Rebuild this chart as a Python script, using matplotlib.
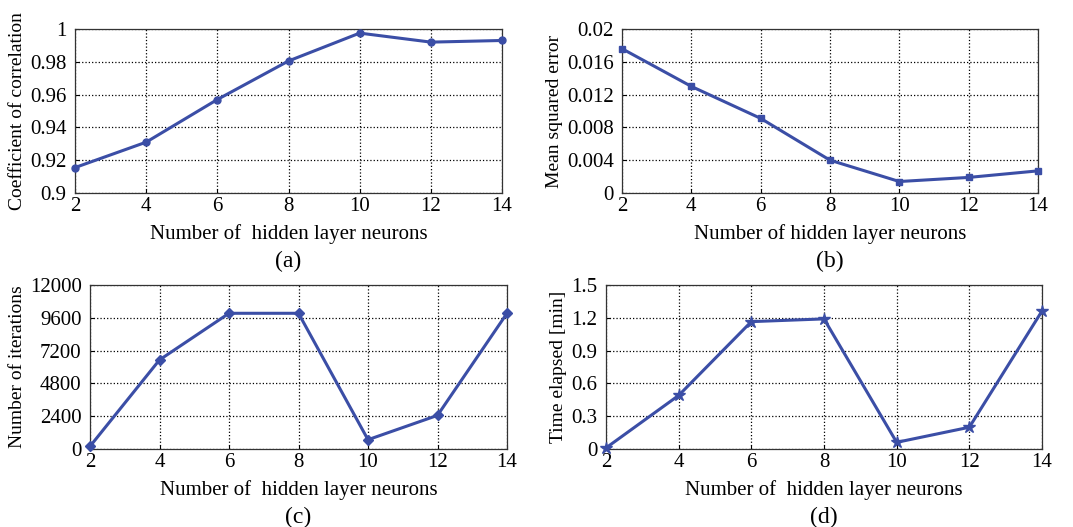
import numpy as np
import matplotlib.pyplot as plt

plt.rcParams['font.family'] = ['Liberation Serif', 'DejaVu Serif']

neurons = [2, 4, 6, 8, 10, 12, 14]
corr = [0.9155, 0.931, 0.957, 0.9805, 0.9975, 0.992, 0.993]
mse = [0.0176, 0.0130, 0.0091, 0.0040, 0.0014, 0.0019, 0.0027]
iters = [195, 6520, 9930, 9930, 680, 2460, 9930]
elapsed = [0.01, 0.49, 1.165, 1.19, 0.061, 0.199, 1.262]

color = '#3b4ea6'
fs = 15

fig = plt.figure(figsize=(10.73, 5.27), dpi=100)

def px(x0, y0, x1, y1):
    W, H = 1073, 527
    return [x0 / W, 1 - y1 / H, (x1 - x0) / W, (y1 - y0) / H]

panels = [
    (px(75, 29, 502, 193), corr, 'o', 'Coefficient of correlation',
     'Number of  hidden layer neurons', '(a)', (0.9, 1.0),
     [0.9, 0.92, 0.94, 0.96, 0.98, 1.0], ['0.9', '0.92', '0.94', '0.96', '0.98', '1']),
    (px(622, 29, 1038, 193), mse, 's', 'Mean squared error',
     'Number of hidden layer neurons', '(b)', (0, 0.02),
     [0, 0.004, 0.008, 0.012, 0.016, 0.02], ['0', '0.004', '0.008', '0.012', '0.016', '0.02']),
    (px(90, 285, 507, 449), iters, 'D', 'Number of iterations',
     'Number of  hidden layer neurons', '(c)', (0, 12000),
     [0, 2400, 4800, 7200, 9600, 12000], ['0', '2400', '4800', '7200', '9600', '12000']),
    (px(606, 285, 1042, 449), elapsed, '*', 'Time elapsed [min]',
     'Number of  hidden layer neurons', '(d)', (0, 1.5),
     [0, 0.3, 0.6, 0.9, 1.2, 1.5], ['0', '0.3', '0.6', '0.9', '1.2', '1.5']),
]

for rect, vals, mk, ylab, xlab, tag, ylim, yt, ytl in panels:
    ax = fig.add_axes(rect)
    ms = 9 if mk == '*' else 5
    ax.plot(neurons, vals, color=color, lw=2.2, marker=mk, ms=ms, clip_on=False, zorder=3)
    ax.set_xlim(2, 14)
    ax.set_ylim(*ylim)
    ax.set_xticks(neurons)
    ax.set_yticks(yt)
    ax.set_yticklabels(ytl)
    ax.tick_params(labelsize=fs, direction='in', length=3)
    ax.tick_params(axis='y', pad=6)
    ax.tick_params(axis='x', pad=3)
    ax.grid(True, linestyle=':', color='black', lw=0.9)
    for s in ax.spines.values():
        s.set_color('#333333')
        s.set_linewidth(0.9)
    ax.set_ylabel(ylab, fontsize=14, labelpad=3)
    # x label and panel tag as two lines of text under the axes
    ax.text(0.5, -0.19, xlab, transform=ax.transAxes, ha='center', va='top', fontsize=fs)
    ax.text(0.5, -0.35, tag, transform=ax.transAxes, ha='center', va='top', fontsize=fs + 2)

fig.savefig('out.png', dpi=100)
